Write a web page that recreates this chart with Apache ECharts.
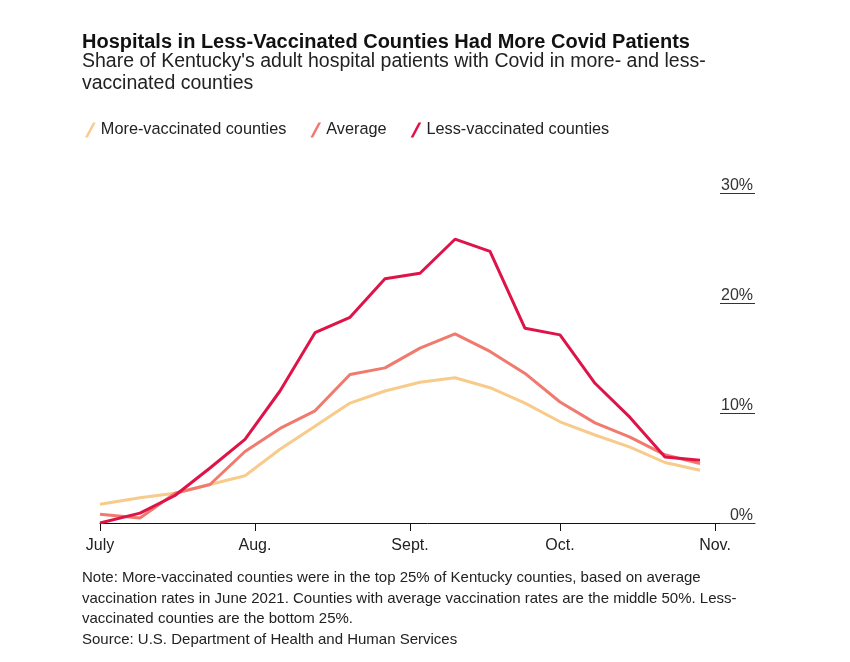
<!DOCTYPE html>
<html>
<head>
<meta charset="utf-8">
<script src="https://cdn.jsdelivr.net/npm/echarts@6/dist/echarts.min.js"></script>
<style>
html,body{margin:0;padding:0;background:#fff;}
#chart{width:850px;height:662px;}
</style>
</head>
<body>
<div id="chart"></div>
<script>
// Weekly dates (2021)
const dates = ['2021-07-01','2021-07-09','2021-07-16','2021-07-23','2021-07-30','2021-08-06','2021-08-13','2021-08-20','2021-08-27','2021-09-03','2021-09-10','2021-09-17','2021-09-24','2021-10-01','2021-10-08','2021-10-15','2021-10-22','2021-10-29'];
// Share of adult hospital patients with Covid (%)
const moreVaccinated = [1.7, 2.3, 2.7, 3.5, 4.3, 6.7, 8.8, 10.9, 12.0, 12.8, 13.2, 12.3, 10.9, 9.2, 8.0, 6.9, 5.5, 4.8];
const average        = [0.8, 0.45, 2.7, 3.5, 6.5, 8.6, 10.2, 13.5, 14.1, 15.9, 17.2, 15.6, 13.6, 11.0, 9.1, 7.8, 6.2, 5.4];
const lessVaccinated = [0.0, 0.9, 2.5, 5.0, 7.6, 12.0, 17.3, 18.7, 22.2, 22.7, 25.8, 24.7, 17.7, 17.1, 12.7, 9.6, 6.0, 5.7];
// Axis ticks
const monthTickDates = ['2021-07-01','2021-08-01','2021-09-01','2021-10-01','2021-11-01'];
const monthTickLabels = ['July','Aug.','Sept.','Oct.','Nov.'];
const xEndDate = '2021-11-09';
const yTicks = [0, 10, 20, 30];

const seriesNames = ['More-vaccinated counties','Average','Less-vaccinated counties'];
const seriesColors = ['#f8cb8b','#ef7a6d','#de1449'];

const DAY = 86400000;
const origin = Date.parse(dates[0]);
const toDay = d => Math.round((Date.parse(d) - origin) / DAY);
const xs = dates.map(toDay);
const tickDays = monthTickDates.map(toDay);
const labelMap = {};
tickDays.forEach((d, i) => labelMap[d] = monthTickLabels[i]);

const pair = vals => vals.map((v, i) => [xs[i], v]);
const FONT = "'Liberation Sans', Arial, sans-serif";
const slash = 'path://M0,14 L2.6,14 L10,0 L7.4,0 Z';

const chart = echarts.init(document.getElementById('chart'), null, {renderer: 'canvas'});
chart.setOption({
  animation: false,
  backgroundColor: '#fff',
  textStyle: {fontFamily: FONT},
  title: [
    {text: 'Hospitals in Less-Vaccinated Counties Had More Covid Patients', left: 77, top: 27,
     textStyle: {fontFamily: FONT, fontSize: 20, fontWeight: 'bold', color: '#111'}},
    {text: "Share of Kentucky's adult hospital patients with Covid in more- and less-\nvaccinated counties", left: 77, top: 46,
     textStyle: {fontFamily: FONT, fontSize: 19.5, fontWeight: 'normal', color: '#222', lineHeight: 22}},
    {text: 'Note: More-vaccinated counties were in the top 25% of Kentucky counties, based on average\nvaccination rates in June 2021. Counties with average vaccination rates are the middle 50%. Less-\nvaccinated counties are the bottom 25%.\nSource: U.S. Department of Health and Human Services',
     left: 77, top: 563,
     textStyle: {fontFamily: FONT, fontSize: 15, fontWeight: 'normal', color: '#222', lineHeight: 20.4}}
  ],
  legend: {
    left: 80, top: 117,
    itemWidth: 11, itemHeight: 15, itemGap: 24, itemTextGap: 6,
    textStyle: {fontFamily: FONT, fontSize: 16.3, color: '#222'},
    data: seriesNames.map(n => ({name: n, icon: slash}))
  },
  grid: {left: 100, right: 95, top: 193, bottom: 139},
  xAxis: {
    type: 'value',
    min: 0, max: toDay(xEndDate),
    axisLine: {show: true, lineStyle: {color: '#111', width: 1}},
    axisTick: {show: true, length: 8, customValues: tickDays, lineStyle: {color: '#111'}},
    axisLabel: {customValues: tickDays, formatter: v => labelMap[v] || '', fontSize: 16, color: '#222', margin: 15, fontFamily: FONT},
    splitLine: {show: false}
  },
  yAxis: {
    type: 'value',
    position: 'right',
    min: 0, max: 30, interval: 10,
    axisLine: {show: false, onZero: false},
    axisTick: {show: true, inside: true, length: 35, lineStyle: {color: '#333'}},
    axisLabel: {inside: true, verticalAlign: 'bottom', margin: 2, formatter: '{value}%', fontSize: 16, lineHeight: 15, color: '#333', fontFamily: FONT},
    splitLine: {show: false}
  },
  series: [
    {name: seriesNames[0], type: 'line', data: pair(moreVaccinated), showSymbol: false, symbol: 'none',
     lineStyle: {color: seriesColors[0], width: 3}, itemStyle: {color: seriesColors[0]}},
    {name: seriesNames[1], type: 'line', data: pair(average), showSymbol: false, symbol: 'none',
     lineStyle: {color: seriesColors[1], width: 3}, itemStyle: {color: seriesColors[1]}},
    {name: seriesNames[2], type: 'line', data: pair(lessVaccinated), showSymbol: false, symbol: 'none',
     lineStyle: {color: seriesColors[2], width: 3}, itemStyle: {color: seriesColors[2]}}
  ]
});
</script>
</body>
</html>
